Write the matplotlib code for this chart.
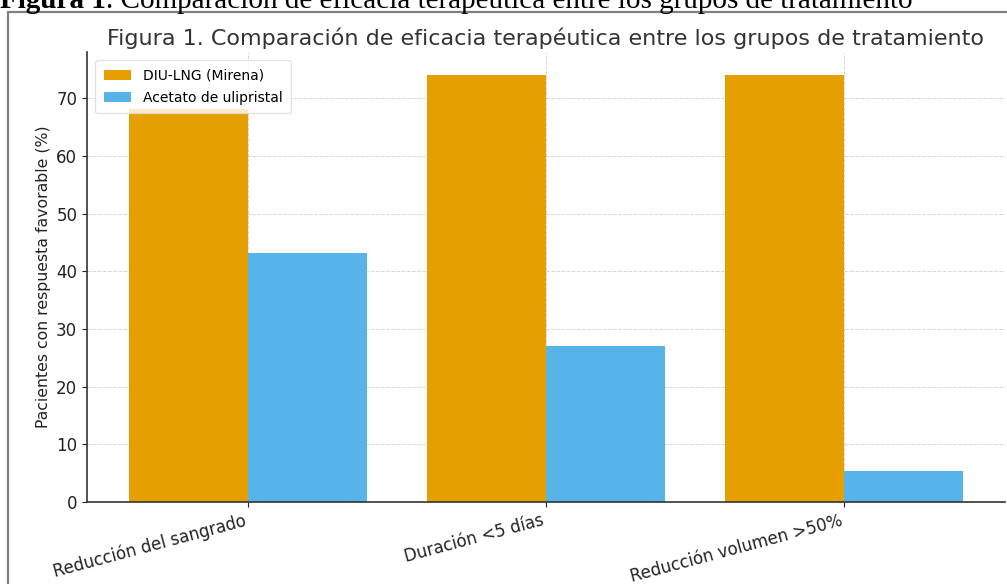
import matplotlib
matplotlib.use("Agg")
import matplotlib.pyplot as plt
from matplotlib.patches import Rectangle
import numpy as np

categorias = ["Reducción del sangrado", "Duración <5 días", "Reducción volumen >50%"]
mirena = [68.2, 74.1, 74.1]
ulipristal = [43.1, 27.0, 5.3]
series = ["DIU-LNG (Mirena)", "Acetato de ulipristal"]

fig = plt.figure(figsize=(10.07, 5.84), dpi=100)
ax = fig.add_axes([0.0864, 0.1404, 0.9116, 0.7705])

x = np.arange(len(categorias))
w = 0.4
ax.bar(x - w / 2, mirena, w, color="#E69F00", label=series[0])
ax.bar(x + w / 2, ulipristal, w, color="#56B4E9", label=series[1])

ax.set_xticks(x)
ax.set_xticklabels(categorias, rotation=15, ha="right", fontsize=12, color="#222222")
ax.set_ylim(0, 78)
ax.set_yticks(range(0, 80, 10))
ax.tick_params(axis="y", labelsize=12, colors="#222222")
ax.tick_params(axis="x", colors="#222222")
ax.set_ylabel("Pacientes con respuesta favorable (%)", fontsize=11.3, color="#222222")
ax.set_title("Figura 1. Comparación de eficacia terapéutica entre los grupos de tratamiento",
             fontsize=16, color="#333333", pad=5)

ax.set_axisbelow(True)
ax.grid(True, linestyle="--", linewidth=0.7, color="#cccccc", alpha=0.8)
for s in ["top", "right"]:
    ax.spines[s].set_visible(False)
for s in ["left", "bottom"]:
    ax.spines[s].set_color("#333333")
    ax.spines[s].set_linewidth(1.2)

ax.legend(loc="upper left", fontsize=10, frameon=True, edgecolor="#dddddd",
          borderaxespad=0.6, borderpad=0.6, labelspacing=0.6)

# document caption above the embedded chart (cut at the top)
t1 = fig.text(0.0, 1 - 8 / 584, "Figura 1", family="Liberation Serif", fontweight="bold",
              fontsize=21, va="baseline", ha="left", color="black")
fig.canvas.draw()
bb = t1.get_window_extent()
fig.text(bb.x1 / fig.bbox.width, 1 - 8 / 584,
         ". Comparación de eficacia terapéutica entre los grupos de tratamiento",
         family="Liberation Serif", fontsize=21, va="baseline", ha="left", color="black")

# frame around the chart picture
fig.add_artist(Rectangle((8 / 1007, -0.1), 1.2, 0.1 + (584 - 12) / 584,
                         transform=fig.transFigure, fill=False,
                         edgecolor="#808080", linewidth=1.6))

fig.savefig("out.png", dpi=100)
